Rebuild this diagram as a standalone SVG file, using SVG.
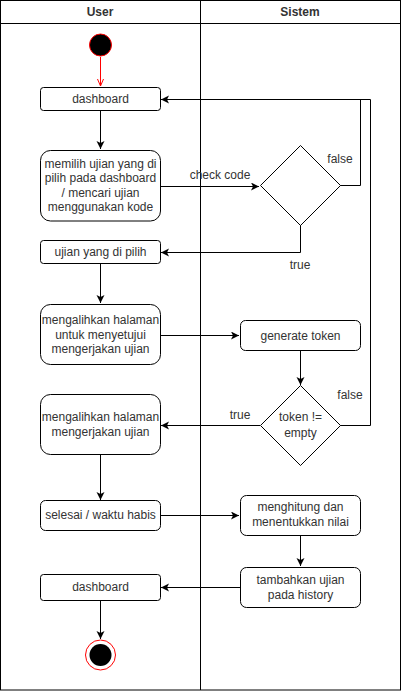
<svg xmlns="http://www.w3.org/2000/svg" width="402" height="692" viewBox="0 0 402 692">
<style>
.n{fill:#fff;stroke:#000;stroke-width:1}
.t{font-family:"Liberation Sans",Arial,sans-serif;font-size:12px;fill:#333;text-anchor:middle}
.h{font-weight:bold}
.e{fill:none;stroke:#000;stroke-width:1}
</style>
<defs>
<marker id="a" markerWidth="10" markerHeight="10" refX="8" refY="4" orient="auto" markerUnits="userSpaceOnUse">
<path d="M0,0 L8,4 L0,8 L2,4 Z" fill="#000"/>
</marker>
</defs>
<g id="pool">
<rect x="0.5" y="0.5" width="400" height="689.5" fill="#fff" stroke="#000"/>
<line x1="0.5" y1="23.5" x2="400.5" y2="23.5" stroke="#000"/>
<line x1="200.5" y1="0.5" x2="200.5" y2="690" stroke="#000"/>
<text class="t h" x="100" y="16">User</text>
<text class="t h" x="300" y="16">Sistem</text>
</g>
<g id="edges">
<line x1="100.5" y1="57" x2="100.5" y2="86" stroke="#f00" stroke-width="1" fill="none"/>
<path d="M97.5,79 L100.5,86 L103.5,79" fill="none" stroke="#f00"/>
<line class="e" x1="100.5" y1="110" x2="100.5" y2="149" marker-end="url(#a)"/>
<path class="e" d="M160,186.5 H259" marker-end="url(#a)"/>
<path class="e" d="M340,185.5 H360.5 V99.5 H161" marker-end="url(#a)"/>
<path class="e" d="M300.5,225 V252.5 H161" marker-end="url(#a)"/>
<line class="e" x1="100.5" y1="263" x2="100.5" y2="303" marker-end="url(#a)"/>
<path class="e" d="M160,335.5 H239" marker-end="url(#a)"/>
<line class="e" x1="300.5" y1="350" x2="300.5" y2="385" marker-end="url(#a)"/>
<path class="e" d="M340,425.5 H370.5 V99.5 H360"/>
<path class="e" d="M260,425.5 H161" marker-end="url(#a)"/>
<line class="e" x1="100.5" y1="454" x2="100.5" y2="500" marker-end="url(#a)"/>
<path class="e" d="M160,515.5 H239" marker-end="url(#a)"/>
<line class="e" x1="300.5" y1="535" x2="300.5" y2="566" marker-end="url(#a)"/>
<path class="e" d="M240,587.5 H161" marker-end="url(#a)"/>
<line class="e" x1="100.5" y1="600" x2="100.5" y2="639" marker-end="url(#a)"/>
<text class="t" x="220" y="179">check code</text>
<text class="t" x="340" y="163">false</text>
<text class="t" x="300" y="269">true</text>
<text class="t" x="350" y="399">false</text>
<text class="t" x="240" y="419">true</text>
</g>
<g id="start"><circle cx="100.5" cy="45" r="11" fill="#000" stroke="#f00"/></g>
<g id="dashboard1"><rect class="n" x="40.5" y="87.5" width="120" height="23" rx="3"/><text class="t" x="100.5" y="103">dashboard</text></g>
<g id="memilih"><rect class="n" x="40.5" y="150.5" width="120" height="70.5" rx="10"/>
<text class="t" x="100.5" y="168">memilih ujian yang di</text>
<text class="t" x="100.5" y="182">pilih pada dashboard</text>
<text class="t" x="100.5" y="197">/ mencari ujian</text>
<text class="t" x="100.5" y="211">menggunakan kode</text></g>
<g id="decision1"><path class="n" d="M300.5,145.5 L340.5,185.5 L300.5,225.5 L260.5,185.5 Z"/></g>
<g id="ujian"><rect class="n" x="40.5" y="240.5" width="120" height="23" rx="3"/><text class="t" x="100.5" y="256">ujian yang di pilih</text></g>
<g id="halaman1"><rect class="n" x="40.5" y="304.5" width="120" height="60" rx="10"/>
<text class="t" x="100.5" y="324">mengalihkan halaman</text>
<text class="t" x="100.5" y="339">untuk menyetujui</text>
<text class="t" x="100.5" y="353">mengerjakan ujian</text></g>
<g id="generate"><rect class="n" x="240.5" y="320.5" width="120" height="30" rx="5"/><text class="t" x="300.5" y="340">generate token</text></g>
<g id="decision2"><path class="n" d="M300.5,385.5 L340.5,425.5 L300.5,465.5 L260.5,425.5 Z"/>
<text class="t" x="300.5" y="421">token !=</text>
<text class="t" x="300.5" y="437">empty</text></g>
<g id="halaman2"><rect class="n" x="40.5" y="394.5" width="120" height="60" rx="10"/>
<text class="t" x="100.5" y="421">mengalihkan halaman</text>
<text class="t" x="100.5" y="436">mengerjakan ujian</text></g>
<g id="selesai"><rect class="n" x="40.5" y="500.5" width="120" height="30" rx="5"/><text class="t" x="100.5" y="519">selesai / waktu habis</text></g>
<g id="menghitung"><rect class="n" x="240.5" y="495.5" width="120" height="40" rx="6"/>
<text class="t" x="300.5" y="511">menghitung dan</text>
<text class="t" x="300.5" y="526">menentukkan nilai</text></g>
<g id="tambahkan"><rect class="n" x="240.5" y="567.5" width="120" height="40" rx="6"/>
<text class="t" x="300.5" y="584">tambahkan ujian</text>
<text class="t" x="300.5" y="599">pada history</text></g>
<g id="dashboard2"><rect class="n" x="40.5" y="574.5" width="120" height="26" rx="3"/><text class="t" x="100.5" y="591">dashboard</text></g>
<g id="end"><circle cx="100.5" cy="655" r="15" fill="#fff" stroke="#f00"/><circle cx="100.5" cy="655" r="11" fill="#000"/></g>
</svg>
